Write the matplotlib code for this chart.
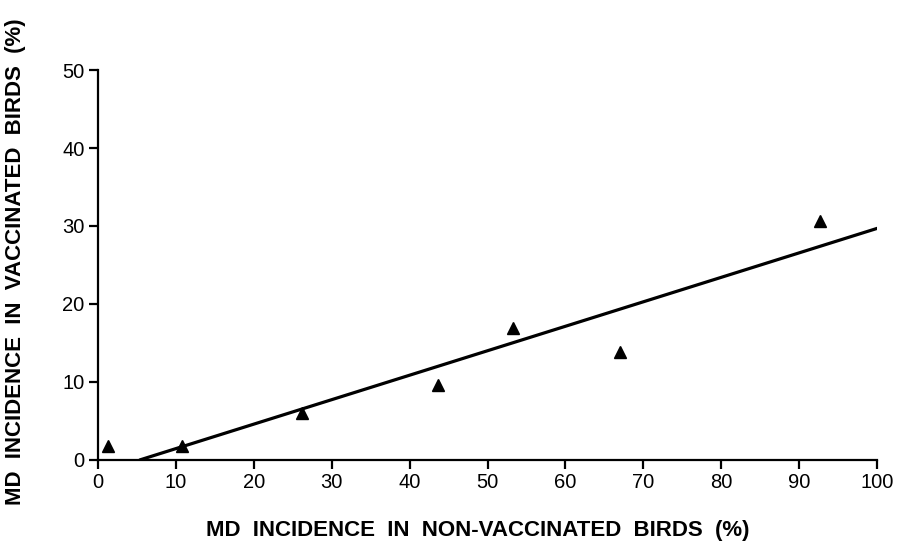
import matplotlib
matplotlib.use("Agg")
import matplotlib.pyplot as plt

# MD incidence (%)
non_vaccinated = [1.3, 10.8, 26.2, 43.6, 53.3, 67.0, 92.7]
vaccinated = [1.8, 1.8, 6.0, 9.6, 16.9, 13.8, 30.6]

# fitted line end points
fit_x = [5.4, 100]
fit_y = [0, 29.7]

x_ticks = [0, 10, 20, 30, 40, 50, 60, 70, 80, 90, 100]
y_ticks = [0, 10, 20, 30, 40, 50]

plt.rcParams["font.family"] = ["Liberation Sans", "DejaVu Sans"]

figure = plt.figure(figsize=(8.97, 5.43), dpi=100)
axis = figure.add_axes([0.109, 0.153, 0.869, 0.718])

axis.plot(fit_x, fit_y, color="black", linewidth=2.3, solid_capstyle="round")
axis.plot(non_vaccinated, vaccinated, linestyle="none", marker="^",
          markersize=9, color="black", clip_on=False)

axis.set_xlim(0, 100)
axis.set_ylim(0, 50)
axis.set_xticks(x_ticks)
axis.set_yticks(y_ticks)

for side in ["top", "right"]:
    axis.spines[side].set_visible(False)
for side in ["left", "bottom"]:
    axis.spines[side].set_linewidth(1.6)

axis.tick_params(direction="out", length=6.5, width=1.6, labelsize=14.5, pad=3)

axis.set_xlabel("MD  INCIDENCE  IN  NON-VACCINATED  BIRDS  (%)",
                fontsize=16, fontweight="bold")
axis.xaxis.label.set_va("center")
axis.xaxis.set_label_coords(0.488, -0.18)
axis.set_ylabel("MD  INCIDENCE  IN  VACCINATED  BIRDS  (%)",
                fontsize=16, fontweight="bold")
axis.yaxis.label.set_va("center")
axis.yaxis.set_label_coords(-0.105, 0.508)

figure.savefig("out.png", dpi=100)
